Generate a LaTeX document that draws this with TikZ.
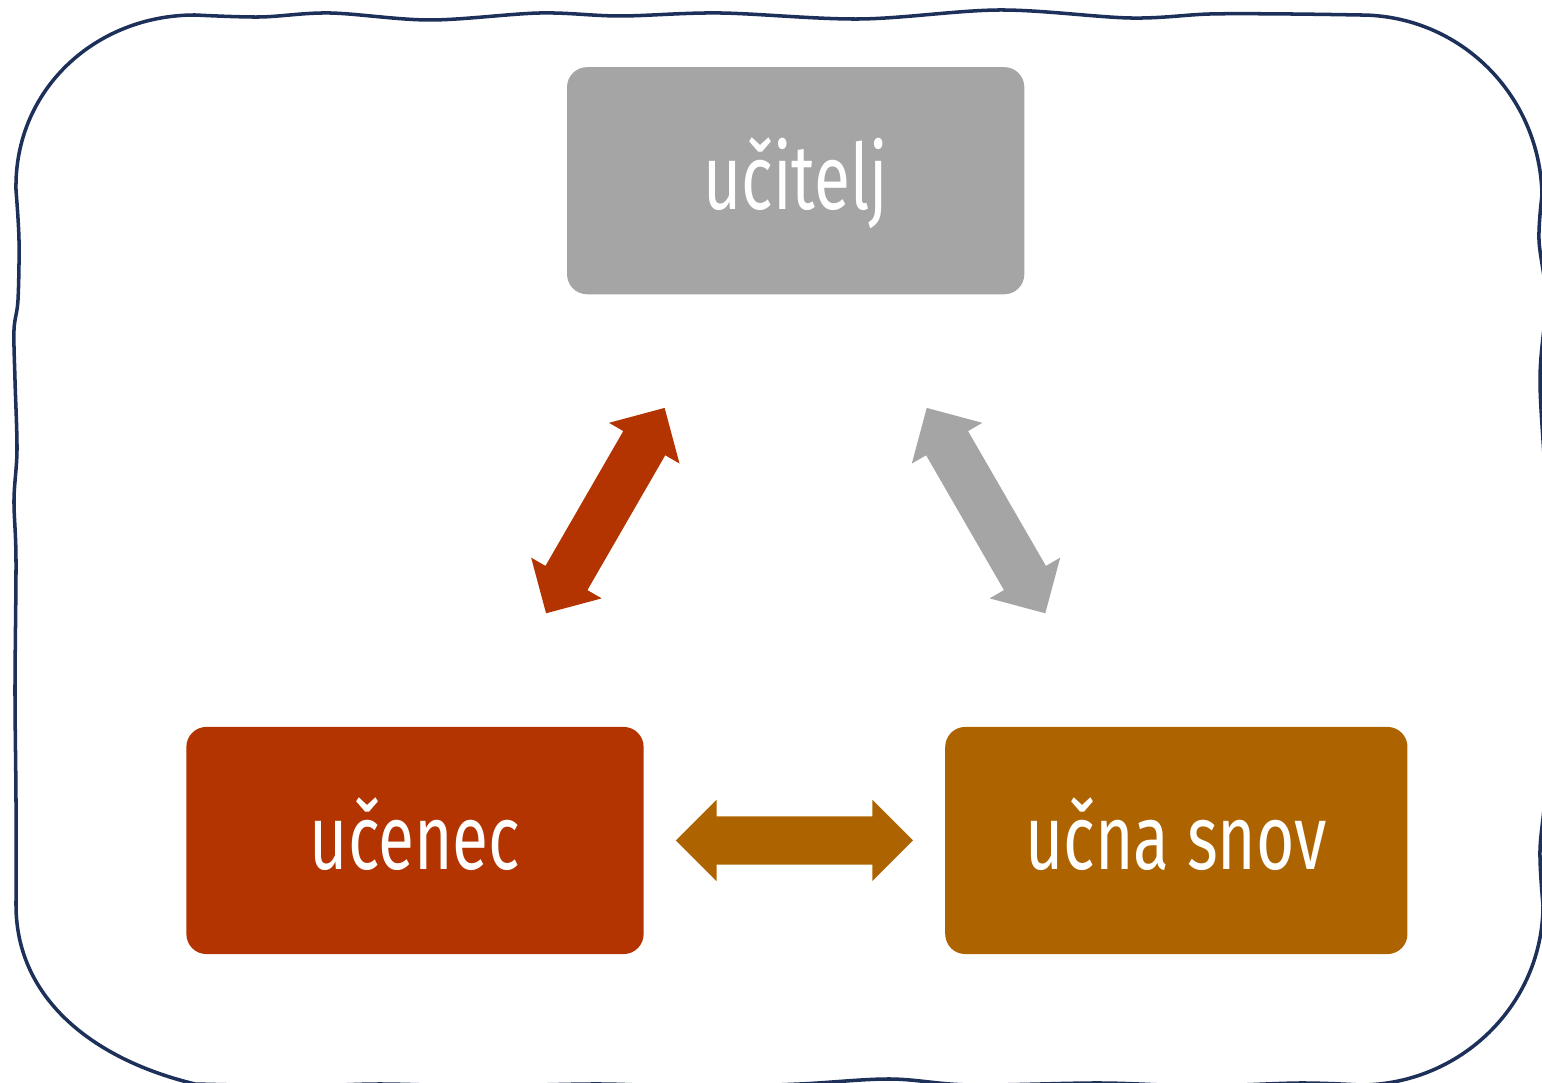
\documentclass[tikz,border=0pt]{standalone}
\usepackage{fontspec}
\newfontfamily\boxfont[FakeStretch=0.72]{Fira Sans}
\usetikzlibrary{positioning,calc,shapes.arrows}
\definecolor{ucgray}{HTML}{A5A5A5}
\definecolor{ucred}{HTML}{B33400}
\definecolor{ucorange}{HTML}{AD6400}
\definecolor{ucnavy}{HTML}{1C3059}

\begin{document}
\begin{tikzpicture}[
    x=0.01cm, y=-0.01cm,
    box/.style={rounded corners=0.2cm,minimum width=4.57cm,minimum height=2.27cm,inner sep=0pt,
        text=white,font=\boxfont\fontsize{26}{30}\selectfont,text height=0.57cm,text depth=0cm},
    dblarr/.style={double arrow,minimum height=2.37cm,minimum width=0.80cm,inner xsep=0pt,inner ysep=0.235cm,
        double arrow head extend=0.165cm,double arrow tip angle=90},
    border/.style={draw=ucnavy,line width=1pt}
]
\useasboundingbox (0,0) rectangle (1542,1083);
\clip (0,0) rectangle (1542,1083);

% hand drawn frame
\draw[border] plot[smooth,tension=0.55] coordinates {
    (195,15) (260,17) (330,13) (430,20) (540,13) (620,16) (720,13) (860,19) (1000,10)
    (1130,18) (1210,14) (1290,14) (1360,15)}
  .. controls (1460,15) and (1540,95) .. (1542,195)
  -- plot[smooth,tension=0.55] coordinates {
    (1542,195) (1539,240) (1546,300) (1540,380) (1546,500) (1545,650) (1546,780) (1540,850) (1543,905)}
  .. controls (1543,1005) and (1460,1085) .. (1360,1085)
  -- plot[smooth,tension=0.55] coordinates {
    (1360,1085) (1300,1083) (1200,1086) (1100,1083) (970,1085) (890,1079) (800,1084) (700,1087)
    (600,1084) (480,1086) (380,1084) (300,1086) (195,1084)}
  .. controls (95,1060) and (16,1000) .. (16,905)
  -- plot[smooth,tension=0.55] coordinates {
    (16,905) (16,800) (15,690) (16,560) (14,500) (17,450) (15,380) (14,330) (18,300) (19,240) (16,190)}
  .. controls (14,90) and (95,15) .. (195,15) -- cycle;

\node[box,fill=ucred] (ucenec) at (415,840.5) {učenec};
\node[box,fill=ucorange,minimum width=4.62cm,right=3cm of ucenec] (snov) {učna snov};
\coordinate (mid) at ($(ucenec.north)!0.5!(snov.north)$);
\node[box,fill=ucgray,above=4.31cm of mid] (ucitelj) {učitelj};

\path (ucenec) -- node[dblarr,fill=ucred,sloped] (arrL) {} (ucitelj);
\path (ucitelj) -- node[dblarr,fill=ucgray,sloped] (arrR) {} (snov);
\path (ucenec) -- node[dblarr,fill=ucorange] (arrB) {} (snov);
\end{tikzpicture}
\end{document}
